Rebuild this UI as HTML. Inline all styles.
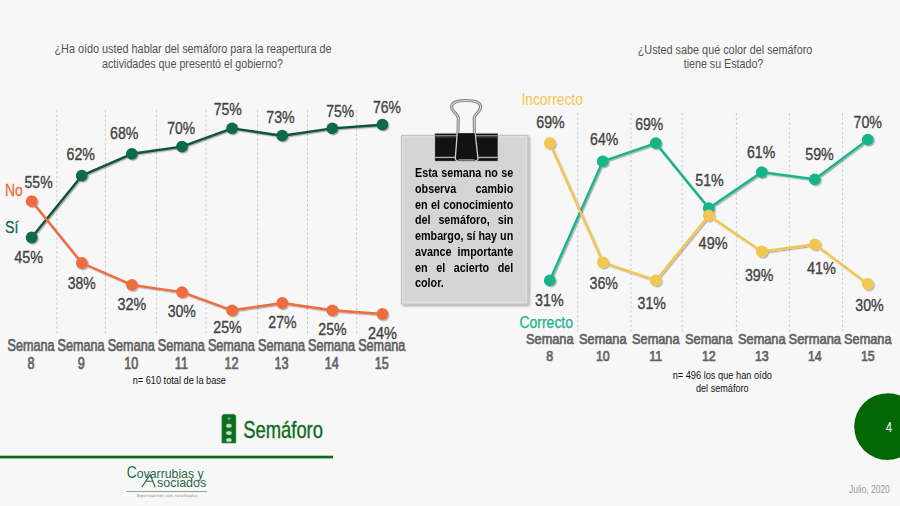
<!DOCTYPE html><html><head><meta charset="utf-8"><style>
html,body{margin:0;padding:0;background:#f7f7f7;}
body{width:900px;height:506px;overflow:hidden;position:relative;font-family:"Liberation Sans", sans-serif;}
svg{position:absolute;left:0;top:0;}
</style></head><body>
<svg width="900" height="506" viewBox="0 0 900 506" font-family='"Liberation Sans", sans-serif'>
<defs>
<filter id="sh" x="-50%" y="-50%" width="200%" height="200%"><feDropShadow dx="1.2" dy="1.2" stdDeviation="0.7" flood-color="#000" flood-opacity="0.3"/></filter>
<filter id="bsh" x="-10%" y="-10%" width="120%" height="120%"><feDropShadow dx="1.5" dy="1.5" stdDeviation="1" flood-color="#000" flood-opacity="0.35"/></filter>
</defs>
<rect width="900" height="506" fill="#f7f7f7"/>

<text x="193.0" y="52.5" font-size="13.0" fill="#525252" font-weight="normal" text-anchor="middle" textLength="277" lengthAdjust="spacingAndGlyphs" >¿Ha oído usted hablar del semáforo para la reapertura de</text>
<text x="192.5" y="67.5" font-size="13.0" fill="#525252" font-weight="normal" text-anchor="middle" textLength="181" lengthAdjust="spacingAndGlyphs" >actividades que presentó el gobierno?</text>
<text x="725.0" y="53.7" font-size="13.0" fill="#525252" font-weight="normal" text-anchor="middle" textLength="174.6" lengthAdjust="spacingAndGlyphs" >¿Usted sabe qué color del semáforo</text>
<text x="723.5" y="67.7" font-size="13.0" fill="#525252" font-weight="normal" text-anchor="middle" textLength="79.6" lengthAdjust="spacingAndGlyphs" >tiene su Estado?</text>
<line x1="56.8" y1="110" x2="56.8" y2="335" stroke="#cdcdcd" stroke-width="1" stroke-dasharray="2.5 2.2"/>
<line x1="105.4" y1="110" x2="105.4" y2="335" stroke="#cdcdcd" stroke-width="1" stroke-dasharray="2.5 2.2"/>
<line x1="156.4" y1="110" x2="156.4" y2="335" stroke="#cdcdcd" stroke-width="1" stroke-dasharray="2.5 2.2"/>
<line x1="206.0" y1="110" x2="206.0" y2="335" stroke="#cdcdcd" stroke-width="1" stroke-dasharray="2.5 2.2"/>
<line x1="257.6" y1="110" x2="257.6" y2="335" stroke="#cdcdcd" stroke-width="1" stroke-dasharray="2.5 2.2"/>
<line x1="307.5" y1="110" x2="307.5" y2="335" stroke="#cdcdcd" stroke-width="1" stroke-dasharray="2.5 2.2"/>
<line x1="356.7" y1="110" x2="356.7" y2="335" stroke="#cdcdcd" stroke-width="1" stroke-dasharray="2.5 2.2"/>
<line x1="577.8" y1="113" x2="577.8" y2="334" stroke="#cdcdcd" stroke-width="1" stroke-dasharray="2.5 2.2"/>
<line x1="630.9" y1="113" x2="630.9" y2="334" stroke="#cdcdcd" stroke-width="1" stroke-dasharray="2.5 2.2"/>
<line x1="682.2" y1="113" x2="682.2" y2="334" stroke="#cdcdcd" stroke-width="1" stroke-dasharray="2.5 2.2"/>
<line x1="736.4" y1="113" x2="736.4" y2="334" stroke="#cdcdcd" stroke-width="1" stroke-dasharray="2.5 2.2"/>
<line x1="789.3" y1="113" x2="789.3" y2="334" stroke="#cdcdcd" stroke-width="1" stroke-dasharray="2.5 2.2"/>
<line x1="842.6" y1="113" x2="842.6" y2="334" stroke="#cdcdcd" stroke-width="1" stroke-dasharray="2.5 2.2"/>
<g filter="url(#sh)"><polyline points="31.7,237.5 81.8,175.7 131.9,153.8 182.0,146.6 232.1,128.4 282.2,135.7 332.3,128.4 382.4,124.7" fill="none" stroke="#0b523c" stroke-width="2.4" stroke-linejoin="round"/>
<circle cx="31.7" cy="237.5" r="5.9" fill="#0f6b4f"/>
<circle cx="81.8" cy="175.7" r="5.9" fill="#0f6b4f"/>
<circle cx="131.9" cy="153.8" r="5.9" fill="#0f6b4f"/>
<circle cx="182.0" cy="146.6" r="5.9" fill="#0f6b4f"/>
<circle cx="232.1" cy="128.4" r="5.9" fill="#0f6b4f"/>
<circle cx="282.2" cy="135.7" r="5.9" fill="#0f6b4f"/>
<circle cx="332.3" cy="128.4" r="5.9" fill="#0f6b4f"/>
<circle cx="382.4" cy="124.7" r="5.9" fill="#0f6b4f"/>
</g>
<g filter="url(#sh)"><polyline points="31.7,201.2 81.8,263.0 131.9,284.9 182.0,292.1 232.1,310.3 282.2,303.0 332.3,310.3 382.4,314.0" fill="none" stroke="#ef6c3f" stroke-width="2.4" stroke-linejoin="round"/>
<circle cx="31.7" cy="201.2" r="5.9" fill="#ef6c3f"/>
<circle cx="81.8" cy="263.0" r="5.9" fill="#ef6c3f"/>
<circle cx="131.9" cy="284.9" r="5.9" fill="#ef6c3f"/>
<circle cx="182.0" cy="292.1" r="5.9" fill="#ef6c3f"/>
<circle cx="232.1" cy="310.3" r="5.9" fill="#ef6c3f"/>
<circle cx="282.2" cy="303.0" r="5.9" fill="#ef6c3f"/>
<circle cx="332.3" cy="310.3" r="5.9" fill="#ef6c3f"/>
<circle cx="382.4" cy="314.0" r="5.9" fill="#ef6c3f"/>
</g>
<g filter="url(#sh)"><polyline points="549.8,280.4 602.8,161.3 655.8,143.2 708.8,208.2 761.8,172.1 814.8,179.3 867.8,139.6" fill="none" stroke="#19b48b" stroke-width="2.4" stroke-linejoin="round"/>
<circle cx="549.8" cy="280.4" r="5.9" fill="#19b48b"/>
<circle cx="602.8" cy="161.3" r="5.9" fill="#19b48b"/>
<circle cx="655.8" cy="143.2" r="5.9" fill="#19b48b"/>
<circle cx="708.8" cy="208.2" r="5.9" fill="#19b48b"/>
<circle cx="761.8" cy="172.1" r="5.9" fill="#19b48b"/>
<circle cx="814.8" cy="179.3" r="5.9" fill="#19b48b"/>
<circle cx="867.8" cy="139.6" r="5.9" fill="#19b48b"/>
</g>
<g filter="url(#sh)"><polyline points="549.8,143.2 602.8,262.3 655.8,280.4 708.8,215.4 761.8,251.5 814.8,244.3 867.8,284.0" fill="none" stroke="#f3c553" stroke-width="2.4" stroke-linejoin="round"/>
<circle cx="549.8" cy="143.2" r="5.9" fill="#f3c553"/>
<circle cx="602.8" cy="262.3" r="5.9" fill="#f3c553"/>
<circle cx="655.8" cy="280.4" r="5.9" fill="#f3c553"/>
<circle cx="708.8" cy="215.4" r="5.9" fill="#f3c553"/>
<circle cx="761.8" cy="251.5" r="5.9" fill="#f3c553"/>
<circle cx="814.8" cy="244.3" r="5.9" fill="#f3c553"/>
<circle cx="867.8" cy="284.0" r="5.9" fill="#f3c553"/>
</g>
<text x="38.6" y="187.8" font-size="16.7" fill="#434343" font-weight="normal" text-anchor="middle" textLength="28.1" lengthAdjust="spacingAndGlyphs" stroke="#434343" stroke-width="0.35">55%</text>
<text x="28.6" y="262.9" font-size="16.7" fill="#434343" font-weight="normal" text-anchor="middle" textLength="28.6" lengthAdjust="spacingAndGlyphs" stroke="#434343" stroke-width="0.35">45%</text>
<text x="80.8" y="159.5" font-size="16.7" fill="#434343" font-weight="normal" text-anchor="middle" textLength="28.4" lengthAdjust="spacingAndGlyphs" stroke="#434343" stroke-width="0.35">62%</text>
<text x="124.2" y="139.0" font-size="16.7" fill="#434343" font-weight="normal" text-anchor="middle" textLength="28.4" lengthAdjust="spacingAndGlyphs" stroke="#434343" stroke-width="0.35">68%</text>
<text x="181.1" y="134.0" font-size="16.7" fill="#434343" font-weight="normal" text-anchor="middle" textLength="27.9" lengthAdjust="spacingAndGlyphs" stroke="#434343" stroke-width="0.35">70%</text>
<text x="227.8" y="115.2" font-size="16.7" fill="#434343" font-weight="normal" text-anchor="middle" textLength="28.1" lengthAdjust="spacingAndGlyphs" stroke="#434343" stroke-width="0.35">75%</text>
<text x="280.5" y="122.6" font-size="16.7" fill="#434343" font-weight="normal" text-anchor="middle" textLength="28.4" lengthAdjust="spacingAndGlyphs" stroke="#434343" stroke-width="0.35">73%</text>
<text x="340.3" y="116.6" font-size="16.7" fill="#434343" font-weight="normal" text-anchor="middle" textLength="27.9" lengthAdjust="spacingAndGlyphs" stroke="#434343" stroke-width="0.35">75%</text>
<text x="387.0" y="112.6" font-size="16.7" fill="#434343" font-weight="normal" text-anchor="middle" textLength="27.9" lengthAdjust="spacingAndGlyphs" stroke="#434343" stroke-width="0.35">76%</text>
<text x="81.8" y="288.6" font-size="16.7" fill="#434343" font-weight="normal" text-anchor="middle" textLength="28.0" lengthAdjust="spacingAndGlyphs" stroke="#434343" stroke-width="0.35">38%</text>
<text x="131.8" y="310.0" font-size="16.7" fill="#434343" font-weight="normal" text-anchor="middle" textLength="28.6" lengthAdjust="spacingAndGlyphs" stroke="#434343" stroke-width="0.35">32%</text>
<text x="181.8" y="317.3" font-size="16.7" fill="#434343" font-weight="normal" text-anchor="middle" textLength="28.3" lengthAdjust="spacingAndGlyphs" stroke="#434343" stroke-width="0.35">30%</text>
<text x="227.5" y="333.1" font-size="16.7" fill="#434343" font-weight="normal" text-anchor="middle" textLength="28.3" lengthAdjust="spacingAndGlyphs" stroke="#434343" stroke-width="0.35">25%</text>
<text x="282.5" y="327.8" font-size="16.7" fill="#434343" font-weight="normal" text-anchor="middle" textLength="28.3" lengthAdjust="spacingAndGlyphs" stroke="#434343" stroke-width="0.35">27%</text>
<text x="332.5" y="335.1" font-size="16.7" fill="#434343" font-weight="normal" text-anchor="middle" textLength="28.3" lengthAdjust="spacingAndGlyphs" stroke="#434343" stroke-width="0.35">25%</text>
<text x="382.5" y="339.0" font-size="16.7" fill="#434343" font-weight="normal" text-anchor="middle" textLength="28.9" lengthAdjust="spacingAndGlyphs" stroke="#434343" stroke-width="0.35">24%</text>
<text x="5.0" y="195.5" font-size="16.3" fill="#ef6c3f" font-weight="normal" text-anchor="start" textLength="17.8" lengthAdjust="spacingAndGlyphs" stroke="#ef6c3f" stroke-width="0.3">No</text>
<text x="5.0" y="232.8" font-size="16.3" fill="#0f6b4f" font-weight="normal" text-anchor="start" textLength="13.4" lengthAdjust="spacingAndGlyphs" stroke="#0f6b4f" stroke-width="0.3">Sí</text>
<text x="31.0" y="350.9" font-size="15.8" fill="#636363" font-weight="normal" text-anchor="middle" textLength="47" lengthAdjust="spacingAndGlyphs" stroke="#636363" stroke-width="0.7">Semana</text>
<text transform="translate(31.10,368.50) scale(0.8,1)" x="0" y="0" font-size="15.8" fill="#636363" font-weight="normal" text-anchor="middle" stroke="#636363" stroke-width="0.7">8</text>
<text x="81.1" y="350.9" font-size="15.8" fill="#636363" font-weight="normal" text-anchor="middle" textLength="47" lengthAdjust="spacingAndGlyphs" stroke="#636363" stroke-width="0.7">Semana</text>
<text transform="translate(81.20,368.50) scale(0.8,1)" x="0" y="0" font-size="15.8" fill="#636363" font-weight="normal" text-anchor="middle" stroke="#636363" stroke-width="0.7">9</text>
<text x="131.2" y="350.9" font-size="15.8" fill="#636363" font-weight="normal" text-anchor="middle" textLength="47" lengthAdjust="spacingAndGlyphs" stroke="#636363" stroke-width="0.7">Semana</text>
<text transform="translate(131.30,368.50) scale(0.8,1)" x="0" y="0" font-size="15.8" fill="#636363" font-weight="normal" text-anchor="middle" stroke="#636363" stroke-width="0.7">10</text>
<text x="181.3" y="350.9" font-size="15.8" fill="#636363" font-weight="normal" text-anchor="middle" textLength="47" lengthAdjust="spacingAndGlyphs" stroke="#636363" stroke-width="0.7">Semana</text>
<text transform="translate(181.40,368.50) scale(0.8,1)" x="0" y="0" font-size="15.8" fill="#636363" font-weight="normal" text-anchor="middle" stroke="#636363" stroke-width="0.7">11</text>
<text x="231.4" y="350.9" font-size="15.8" fill="#636363" font-weight="normal" text-anchor="middle" textLength="47" lengthAdjust="spacingAndGlyphs" stroke="#636363" stroke-width="0.7">Semana</text>
<text transform="translate(231.50,368.50) scale(0.8,1)" x="0" y="0" font-size="15.8" fill="#636363" font-weight="normal" text-anchor="middle" stroke="#636363" stroke-width="0.7">12</text>
<text x="281.5" y="350.9" font-size="15.8" fill="#636363" font-weight="normal" text-anchor="middle" textLength="47" lengthAdjust="spacingAndGlyphs" stroke="#636363" stroke-width="0.7">Semana</text>
<text transform="translate(281.60,368.50) scale(0.8,1)" x="0" y="0" font-size="15.8" fill="#636363" font-weight="normal" text-anchor="middle" stroke="#636363" stroke-width="0.7">13</text>
<text x="331.6" y="350.9" font-size="15.8" fill="#636363" font-weight="normal" text-anchor="middle" textLength="47" lengthAdjust="spacingAndGlyphs" stroke="#636363" stroke-width="0.7">Semana</text>
<text transform="translate(331.70,368.50) scale(0.8,1)" x="0" y="0" font-size="15.8" fill="#636363" font-weight="normal" text-anchor="middle" stroke="#636363" stroke-width="0.7">14</text>
<text x="381.7" y="350.9" font-size="15.8" fill="#636363" font-weight="normal" text-anchor="middle" textLength="47" lengthAdjust="spacingAndGlyphs" stroke="#636363" stroke-width="0.7">Semana</text>
<text transform="translate(381.80,368.50) scale(0.8,1)" x="0" y="0" font-size="15.8" fill="#636363" font-weight="normal" text-anchor="middle" stroke="#636363" stroke-width="0.7">15</text>
<text x="132.7" y="383.7" font-size="10.8" fill="#111" font-weight="normal" text-anchor="start" textLength="93.3" lengthAdjust="spacingAndGlyphs" >n= 610 total de la base</text>
<text x="549.8" y="344.2" font-size="14.8" fill="#636363" font-weight="normal" text-anchor="middle" textLength="47.5" lengthAdjust="spacingAndGlyphs" stroke="#636363" stroke-width="0.7">Semana</text>
<text transform="translate(549.80,361.40) scale(0.84,1)" x="0" y="0" font-size="14.8" fill="#636363" font-weight="normal" text-anchor="middle" stroke="#636363" stroke-width="0.7">8</text>
<text x="602.8" y="344.2" font-size="14.8" fill="#636363" font-weight="normal" text-anchor="middle" textLength="47.5" lengthAdjust="spacingAndGlyphs" stroke="#636363" stroke-width="0.7">Semana</text>
<text transform="translate(602.80,361.40) scale(0.84,1)" x="0" y="0" font-size="14.8" fill="#636363" font-weight="normal" text-anchor="middle" stroke="#636363" stroke-width="0.7">10</text>
<text x="655.8" y="344.2" font-size="14.8" fill="#636363" font-weight="normal" text-anchor="middle" textLength="47.5" lengthAdjust="spacingAndGlyphs" stroke="#636363" stroke-width="0.7">Semana</text>
<text transform="translate(655.80,361.40) scale(0.84,1)" x="0" y="0" font-size="14.8" fill="#636363" font-weight="normal" text-anchor="middle" stroke="#636363" stroke-width="0.7">11</text>
<text x="708.8" y="344.2" font-size="14.8" fill="#636363" font-weight="normal" text-anchor="middle" textLength="47.5" lengthAdjust="spacingAndGlyphs" stroke="#636363" stroke-width="0.7">Semana</text>
<text transform="translate(708.80,361.40) scale(0.84,1)" x="0" y="0" font-size="14.8" fill="#636363" font-weight="normal" text-anchor="middle" stroke="#636363" stroke-width="0.7">12</text>
<text x="761.8" y="344.2" font-size="14.8" fill="#636363" font-weight="normal" text-anchor="middle" textLength="47.5" lengthAdjust="spacingAndGlyphs" stroke="#636363" stroke-width="0.7">Semana</text>
<text transform="translate(761.80,361.40) scale(0.84,1)" x="0" y="0" font-size="14.8" fill="#636363" font-weight="normal" text-anchor="middle" stroke="#636363" stroke-width="0.7">13</text>
<text x="814.8" y="344.2" font-size="14.8" fill="#636363" font-weight="normal" text-anchor="middle" textLength="52.5" lengthAdjust="spacingAndGlyphs" stroke="#636363" stroke-width="0.7">Sermana</text>
<text transform="translate(814.80,361.40) scale(0.84,1)" x="0" y="0" font-size="14.8" fill="#636363" font-weight="normal" text-anchor="middle" stroke="#636363" stroke-width="0.7">14</text>
<text x="867.8" y="344.2" font-size="14.8" fill="#636363" font-weight="normal" text-anchor="middle" textLength="47.5" lengthAdjust="spacingAndGlyphs" stroke="#636363" stroke-width="0.7">Semana</text>
<text transform="translate(867.80,361.40) scale(0.84,1)" x="0" y="0" font-size="14.8" fill="#636363" font-weight="normal" text-anchor="middle" stroke="#636363" stroke-width="0.7">15</text>
<text x="722.3" y="379.3" font-size="10.8" fill="#111" font-weight="normal" text-anchor="middle" textLength="99.3" lengthAdjust="spacingAndGlyphs" >n= 496 los que han oído</text>
<text x="722.3" y="392.4" font-size="10.8" fill="#111" font-weight="normal" text-anchor="middle" textLength="52.7" lengthAdjust="spacingAndGlyphs" >del semáforo</text>
<text x="550.5" y="128.1" font-size="16.7" fill="#434343" font-weight="normal" text-anchor="middle" textLength="28.4" lengthAdjust="spacingAndGlyphs" stroke="#434343" stroke-width="0.35">69%</text>
<text x="549.4" y="306.2" font-size="16.7" fill="#434343" font-weight="normal" text-anchor="middle" textLength="28.7" lengthAdjust="spacingAndGlyphs" stroke="#434343" stroke-width="0.35">31%</text>
<text x="604.2" y="145.4" font-size="16.7" fill="#434343" font-weight="normal" text-anchor="middle" textLength="28.2" lengthAdjust="spacingAndGlyphs" stroke="#434343" stroke-width="0.35">64%</text>
<text x="603.8" y="288.8" font-size="16.7" fill="#434343" font-weight="normal" text-anchor="middle" textLength="28.4" lengthAdjust="spacingAndGlyphs" stroke="#434343" stroke-width="0.35">36%</text>
<text x="649.2" y="129.7" font-size="16.7" fill="#434343" font-weight="normal" text-anchor="middle" textLength="28.0" lengthAdjust="spacingAndGlyphs" stroke="#434343" stroke-width="0.35">69%</text>
<text x="651.8" y="308.9" font-size="16.7" fill="#434343" font-weight="normal" text-anchor="middle" textLength="28.4" lengthAdjust="spacingAndGlyphs" stroke="#434343" stroke-width="0.35">31%</text>
<text x="709.5" y="185.8" font-size="16.7" fill="#434343" font-weight="normal" text-anchor="middle" textLength="28.6" lengthAdjust="spacingAndGlyphs" stroke="#434343" stroke-width="0.35">51%</text>
<text x="713.1" y="248.9" font-size="16.7" fill="#434343" font-weight="normal" text-anchor="middle" textLength="29.0" lengthAdjust="spacingAndGlyphs" stroke="#434343" stroke-width="0.35">49%</text>
<text x="761.1" y="158.2" font-size="16.7" fill="#434343" font-weight="normal" text-anchor="middle" textLength="28.3" lengthAdjust="spacingAndGlyphs" stroke="#434343" stroke-width="0.35">61%</text>
<text x="759.2" y="280.5" font-size="16.7" fill="#434343" font-weight="normal" text-anchor="middle" textLength="28.5" lengthAdjust="spacingAndGlyphs" stroke="#434343" stroke-width="0.35">39%</text>
<text x="819.5" y="159.8" font-size="16.7" fill="#434343" font-weight="normal" text-anchor="middle" textLength="28.6" lengthAdjust="spacingAndGlyphs" stroke="#434343" stroke-width="0.35">59%</text>
<text x="821.5" y="274.1" font-size="16.7" fill="#434343" font-weight="normal" text-anchor="middle" textLength="29.0" lengthAdjust="spacingAndGlyphs" stroke="#434343" stroke-width="0.35">41%</text>
<text x="867.8" y="127.6" font-size="16.7" fill="#434343" font-weight="normal" text-anchor="middle" textLength="28.4" lengthAdjust="spacingAndGlyphs" stroke="#434343" stroke-width="0.35">70%</text>
<text x="869.5" y="311.3" font-size="16.7" fill="#434343" font-weight="normal" text-anchor="middle" textLength="28.5" lengthAdjust="spacingAndGlyphs" stroke="#434343" stroke-width="0.35">30%</text>
<text x="521.4" y="105.3" font-size="16" fill="#f3c553" font-weight="normal" text-anchor="start" textLength="61.5" lengthAdjust="spacingAndGlyphs" >Incorrecto</text>
<text x="519.5" y="328.0" font-size="16" fill="#19b48b" font-weight="normal" text-anchor="start" textLength="53.5" lengthAdjust="spacingAndGlyphs" stroke="#19b48b" stroke-width="0.25">Correcto</text>
<g filter="url(#bsh)"><rect x="401.5" y="135.4" width="126.3" height="168.6" fill="#d5d5d5" stroke="#bdbdbd" stroke-width="1"/></g>
<rect x="403" y="136.9" width="123.3" height="165.6" fill="none" stroke="#dedede" stroke-width="2"/>
<g>
<path d="M458,134 L458.3,118 C458.3,114 451.6,112 451.6,106.8 C451.6,101.6 458,100.6 466,100.6 C474,100.6 480.6,101.6 480.6,106.8 C480.6,112 474.2,114 474.2,118 L474.4,134" fill="none" stroke="#7d7d7d" stroke-width="3"/>
<path d="M458,134 L458.3,118 C458.3,114 451.6,112 451.6,106.8 C451.6,101.6 458,100.6 466,100.6 C474,100.6 480.6,101.6 480.6,106.8 C480.6,112 474.2,114 474.2,118 L474.4,134" fill="none" stroke="#d8d8d8" stroke-width="1.1"/>
<rect x="434.8" y="133.2" width="63.2" height="28" fill="#121212" stroke="#e0e0e0" stroke-width="0.6"/>
<rect x="435.2" y="135.2" width="62.4" height="0.9" fill="#a0a0a0"/>
<rect x="435.2" y="136.1" width="62.4" height="1.4" fill="#4a4a4a"/>
<rect x="435.2" y="156.8" width="62.4" height="1.3" fill="#b4b4b4"/>
<path d="M457.2,133.2 L455.3,158.5 Q455.8,161.2 460,161.2 L473.5,161.2 Q477.6,161.2 478,158.5 L475.2,133.2" fill="#121212" stroke="#d0d0d0" stroke-width="1.3"/>
<path d="M458.5,159.5 L474.5,159.5" stroke="#9a9a9a" stroke-width="0.8"/>
</g>
<g>
<path d="M221.9,443 L221.9,417 Q221.9,414.3 224.5,414.3 L233.3,414.3 Q235.9,414.3 235.9,417 L235.9,443 Z" fill="#0b6d1d" stroke="#3f8f4c" stroke-width="0.6"/>
<ellipse cx="229" cy="418.6" rx="1.6" ry="1.1" fill="#7fb08a"/>
<ellipse cx="228.9" cy="425.7" rx="2.9" ry="2.0" fill="#c9dfca" stroke="#5a9a66" stroke-width="0.5"/>
<ellipse cx="228.9" cy="433" rx="2.9" ry="2.0" fill="#c9dfca" stroke="#5a9a66" stroke-width="0.5"/>
<ellipse cx="228.9" cy="440" rx="2.9" ry="2.0" fill="#c9dfca" stroke="#5a9a66" stroke-width="0.5"/>
</g>
<text x="243.2" y="437.7" font-size="23.2" fill="#0d6b1d" font-weight="normal" text-anchor="start" textLength="79.8" lengthAdjust="spacingAndGlyphs" stroke="#0d6b1d" stroke-width="0.35">Semáforo</text>
<rect x="0" y="455.7" width="333" height="2.7" fill="#0b6b18"/>
<text x="126.8" y="477.8" font-family="Liberation Sans, sans-serif" font-size="16" fill="#2a6a46" textLength="10" lengthAdjust="spacingAndGlyphs">C</text>
<text x="136.8" y="477.6" font-family="Liberation Sans, sans-serif" font-size="12.8" fill="#2a6a46" textLength="66.8" lengthAdjust="spacingAndGlyphs">ovarrubias y</text>
<path d="M141.8,487.3 L150.2,474.6 L155.2,487.3 M145.2,481.2 L152.6,481.2" fill="none" stroke="#2a6a46" stroke-width="1.15"/>
<text x="157" y="487.2" font-family="Liberation Sans, sans-serif" font-size="12.8" fill="#2a6a46" textLength="49.2" lengthAdjust="spacingAndGlyphs">sociados</text>
<rect x="126.3" y="491.1" width="80.8" height="0.9" fill="#7f9f86"/>
<text x="136.4" y="497" font-family="Liberation Serif, serif" font-style="italic" font-size="4.6" fill="#8a8a8a" textLength="61" lengthAdjust="spacingAndGlyphs">Información con resultados</text>
<circle cx="887.6" cy="426.6" r="33.4" fill="#036803"/>
<text transform="translate(889.00,432.20) scale(0.82,1)" x="0" y="0" font-size="14" fill="#fff" font-weight="normal" text-anchor="middle" >4</text>
<text x="849.0" y="493.3" font-size="10.2" fill="#9a9a9a" font-weight="normal" text-anchor="start" textLength="40.8" lengthAdjust="spacingAndGlyphs" >Julio, 2020</text>
</svg><div style="position:absolute;left:415.3px;top:166.2px;width:109.5px;white-space:nowrap;transform:scaleX(0.897);transform-origin:0 0;font-family:'Liberation Sans',sans-serif;font-weight:bold;font-size:12px;line-height:15.75px;color:#000;"><div style="text-align:justify;text-align-last:justify">Esta semana no se</div><div style="text-align:justify;text-align-last:justify">observa cambio</div><div style="text-align:justify;text-align-last:justify">en el conocimiento</div><div style="text-align:justify;text-align-last:justify">del semáforo, sin</div><div style="text-align:justify;text-align-last:justify">embargo, sí hay un</div><div style="text-align:justify;text-align-last:justify">avance importante</div><div style="text-align:justify;text-align-last:justify">en el acierto del</div><div style="text-align:justify;text-align-last:left">color.</div></div></body></html>
